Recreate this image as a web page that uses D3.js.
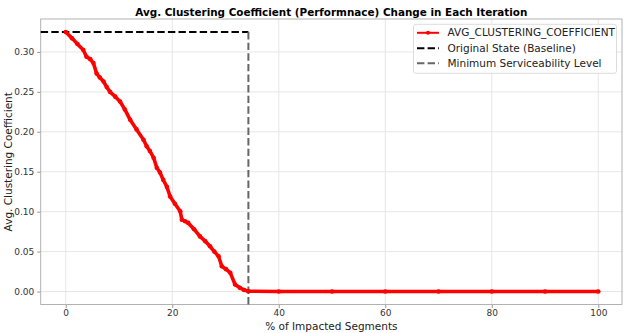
<!DOCTYPE html>
<html>
<head>
<meta charset="utf-8">
<script src="https://cdn.jsdelivr.net/npm/d3@7"></script>
<style>
  body { margin: 0; background: #fff; }
  svg { display: block; font-family: "DejaVu Sans", sans-serif; }
</style>
</head>
<body>
<svg id="chart" width="624" height="333"></svg>
<script>
// values
var pctImpacted = [0, 1.2, 2.2, 3.3, 3.9, 4.6, 5.2, 5.8, 6.4, 7.1, 7.7, 8.3, 9.3, 10.2, 11.1, 12.1, 13.3, 14.6, 15.2, 15.8, 16.5, 17.1, 17.7, 18.3, 19.0, 19.6, 20.5, 21.5, 21.8, 22.4, 23.0, 24.1, 25.2, 26.2, 27.1, 27.9, 28.7, 29.3, 30.1, 30.9, 31.8, 32.7, 33.5, 34.3, 40, 50, 60, 70, 80, 90, 100];
var avgClustering = [0.325, 0.317, 0.310, 0.3025, 0.294, 0.291, 0.286, 0.273, 0.268, 0.263, 0.256, 0.250, 0.244, 0.238, 0.228, 0.215, 0.203, 0.190, 0.182, 0.176, 0.1675, 0.155, 0.149, 0.140, 0.131, 0.119, 0.110, 0.1004, 0.090, 0.088, 0.0859, 0.078, 0.069, 0.063, 0.0566, 0.050, 0.0441, 0.0316, 0.028, 0.0234, 0.0088, 0.0046, 0.002, 0.0004, 0, 0, 0, 0, 0, 0, 0];
var baselineValue = 0.325;
var serviceabilityPct = 34.3;
var xTicks = [0, 20, 40, 60, 80, 100];
var yTicks = [0.00, 0.05, 0.10, 0.15, 0.20, 0.25, 0.30];
var legendLabels = ["AVG_CLUSTERING_COEFFICIENT", "Original State (Baseline)", "Minimum Serviceability Level"];

var svg = d3.select("#chart");
var margin = {top: 19, right: 2, bottom: 28.5, left: 40.7};
var width = 624 - margin.left - margin.right,
    height = 333 - margin.top - margin.bottom;
var g = svg.append("g").attr("transform", "translate(" + margin.left + "," + margin.top + ")");

var x = d3.scaleLinear().domain([-4.7, 104.45]).range([0, width]);
var y = d3.scaleLinear().domain([-0.01625, 0.34125]).range([height, 0]);

// grid
g.append("g").selectAll("line").data(xTicks).enter().append("line")
    .attr("x1", function (d) { return x(d); }).attr("x2", function (d) { return x(d); })
    .attr("y1", 0).attr("y2", height)
    .attr("stroke", "#e3e3e3").attr("stroke-width", 0.9);
g.append("g").selectAll("line").data(yTicks).enter().append("line")
    .attr("y1", function (d) { return y(d); }).attr("y2", function (d) { return y(d); })
    .attr("x1", 0).attr("x2", width)
    .attr("stroke", "#e3e3e3").attr("stroke-width", 0.9);

// axes
var xAxis = g.append("g")
    .attr("transform", "translate(0," + height + ")")
    .call(d3.axisBottom(x).tickValues(xTicks).tickSize(3.5).tickPadding(2).tickFormat(d3.format("d")));
var yAxis = g.append("g")
    .call(d3.axisLeft(y).tickValues(yTicks).tickSize(3.5).tickPadding(3).tickFormat(d3.format(".2f")));
[xAxis, yAxis].forEach(function (a) {
    a.select(".domain").remove();
    a.selectAll("line").attr("stroke", "#999");
    a.selectAll("text").attr("fill", "#333").style("font-size", "9px").style("font-family", "DejaVu Sans");
});

// spines
g.append("rect").attr("x", 0).attr("y", 0).attr("width", width).attr("height", height)
    .attr("fill", "none").attr("stroke", "#aaa").attr("stroke-width", 0.9);

// baseline and serviceability lines
g.append("line")
    .attr("x1", 0).attr("x2", x(serviceabilityPct))
    .attr("y1", y(baselineValue)).attr("y2", y(baselineValue))
    .attr("stroke", "#000").attr("stroke-width", 2).attr("stroke-dasharray", "7.4,3.2");
g.append("line")
    .attr("x1", x(serviceabilityPct)).attr("x2", x(serviceabilityPct))
    .attr("y1", height).attr("y2", y(baselineValue))
    .attr("stroke", "#666").attr("stroke-width", 2).attr("stroke-dasharray", "7.4,3.2");

// main series
var data = pctImpacted.map(function (p, i) { return {x: p, y: avgClustering[i]}; });
var line = d3.line()
    .x(function (d) { return x(d.x); })
    .y(function (d) { return y(d.y); });
g.append("path")
    .datum(data)
    .attr("fill", "none")
    .attr("stroke", "#ff0000")
    .attr("stroke-width", 3.6)
    .attr("stroke-linejoin", "round")
    .attr("stroke-linecap", "round")
    .attr("d", line);
g.append("g").selectAll("circle").data(data).enter().append("circle")
    .attr("cx", function (d) { return x(d.x); })
    .attr("cy", function (d) { return y(d.y); })
    .attr("r", 2.3)
    .attr("fill", "#ff0000");

// title and labels
svg.append("text")
    .attr("x", margin.left + width / 2).attr("y", 15.5)
    .attr("text-anchor", "middle")
    .style("font-size", "10.4px").style("font-weight", "bold")
    .text("Avg. Clustering Coefficient (Performnace) Change in Each Iteration");
svg.append("text")
    .attr("x", margin.left + width / 2).attr("y", 329.5)
    .attr("text-anchor", "middle")
    .style("font-size", "10.5px").attr("fill", "#222")
    .text("% of Impacted Segments");
svg.append("text")
    .attr("transform", "translate(11.5," + (margin.top + height / 2) + ") rotate(-90)")
    .attr("text-anchor", "middle")
    .style("font-size", "10.5px").attr("fill", "#222")
    .text("Avg. Clustering Coefficient");

// legend
var lg = svg.append("g").attr("transform", "translate(413.5,24.3)");
lg.append("rect").attr("width", 203).attr("height", 49).attr("rx", 2.5)
    .attr("fill", "#fff").attr("fill-opacity", 0.85)
    .attr("stroke", "#d8d8d8").attr("stroke-width", 0.9);
var rowY = [8.5, 24, 39];
var handles = [
    {stroke: "#ff0000", dash: null},
    {stroke: "#000", dash: "7.4,3.2"},
    {stroke: "#666", dash: "7.4,3.2"}
];
legendLabels.forEach(function (lbl, i) {
    var h = lg.append("line")
        .attr("x1", 3.5).attr("x2", 25.5)
        .attr("y1", rowY[i]).attr("y2", rowY[i])
        .attr("stroke", handles[i].stroke).attr("stroke-width", 2);
    if (handles[i].dash) h.attr("stroke-dasharray", handles[i].dash);
    if (i === 0) {
        lg.append("circle").attr("cx", 14.5).attr("cy", rowY[i]).attr("r", 2).attr("fill", "#ff0000");
    }
    lg.append("text")
        .attr("x", 34).attr("y", rowY[i]).attr("dy", "0.35em")
        .style("font-size", "10.5px").attr("fill", "#222")
        .text(lbl);
});
</script>
</body>
</html>
